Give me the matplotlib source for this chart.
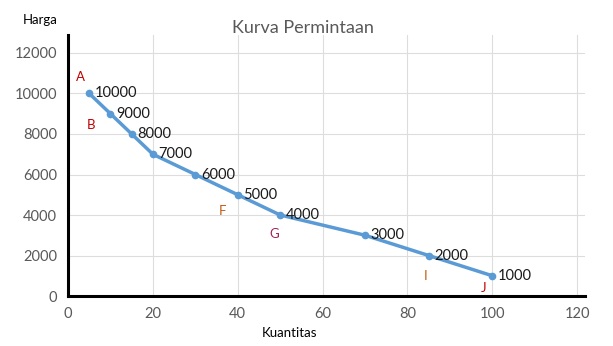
import matplotlib.pyplot as plt

plt.rcParams['font.family'] = ['Lato', 'DejaVu Sans']

# Demand curve: quantity vs. price
kuantitas = [5, 10, 15, 20, 30, 40, 50, 70, 85, 100]
harga = [10000, 9000, 8000, 7000, 6000, 5000, 4000, 3000, 2000, 1000]

# Letters marking some points, with pixel offsets from the point
huruf = ['A', 'B', 'F', 'G', 'I', 'J']
huruf_idx = [0, 1, 5, 6, 8, 9]
huruf_warna = ['#C00000', '#C00000', '#C55A11', '#A0205A', '#C55A11', '#C00000']
huruf_offset = [(-6, 12), (-14, -8), (-11, -12), (-4, -14), (-2, -15), (-6, -9)]

xticks = [0, 20, 40, 60, 80, 100, 120]
yticks = [0, 2000, 4000, 6000, 8000, 10000, 12000]

fig = plt.figure(figsize=(6.13, 3.46), dpi=100)
ax = fig.add_axes([0.111, 0.1445, 0.843, 0.755])

ax.plot(kuantitas, harga, color='#5B9BD5', linewidth=2.5,
        marker='o', markersize=4.5, zorder=3)

for x, y in zip(kuantitas, harga):
    ax.annotate(str(y), (x, y), xytext=(4, 0), textcoords='offset points',
                ha='left', va='center', fontsize=10.5, color='#1a1a1a')

for h, i, c, off in zip(huruf, huruf_idx, huruf_warna, huruf_offset):
    ax.annotate(h, (kuantitas[i], harga[i]), xytext=off, textcoords='offset points',
                ha='center', va='center', fontsize=9.5, color=c)

ax.set_xlim(0, 121.8)
ax.set_ylim(0, 12900)
ax.set_xticks(xticks)
ax.set_yticks(yticks)
ax.tick_params(length=0, labelsize=10.5, labelcolor='#595959', pad=8)
ax.grid(True, color='#DDDDDD', linewidth=0.8)
ax.set_axisbelow(True)

for s in ['top', 'right']:
    ax.spines[s].set_visible(False)
for s in ['left', 'bottom']:
    ax.spines[s].set_linewidth(2.2)
    ax.spines[s].set_color('black')

fig.text(0.494, 0.918, 'Kurva Permintaan', ha='center', va='center',
         fontsize=13, color='#595959')
fig.text(0.065, 0.942, 'Harga', ha='center', va='center', fontsize=9.5, color='black')
fig.text(0.472, 0.038, 'Kuantitas', ha='center', va='center', fontsize=9.5, color='black')

fig.savefig('out.png', dpi=100)
